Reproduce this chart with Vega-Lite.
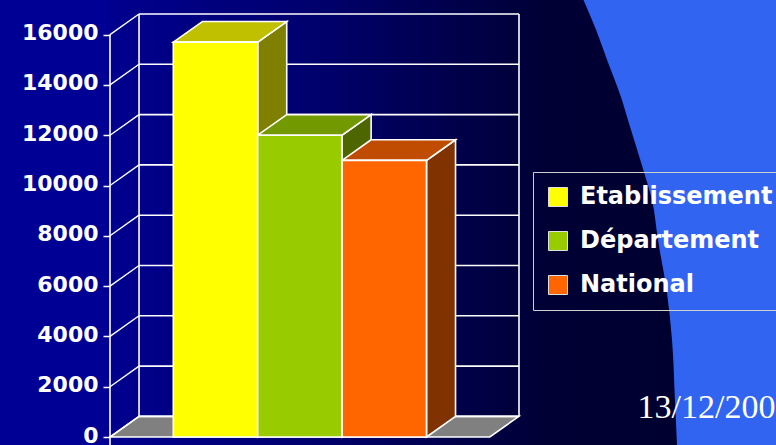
{
  "$schema": "https://vega.github.io/schema/vega-lite/v6.json",
  "width": 666,
  "height": 445,
  "autosize": {"type": "none"},
  "padding": {"left": 110, "top": 0, "right": 0, "bottom": 0},
  "background": "#000094",
  "view": {
    "stroke": null,
    "fill": {"gradient": "linear", "x1": 0, "y1": 0, "x2": 1, "y2": 0,
      "stops": [
        {"offset": 0, "color": "#00008f"},
        {"offset": 0.3, "color": "#00006e"},
        {"offset": 0.65, "color": "#000036"},
        {"offset": 1, "color": "#00002a"}
      ]}
  },
  "datasets": {
    "bars": [
      {"cat": "Etablissement", "i": 0, "v": 15700},
      {"cat": "Département", "i": 1, "v": 12000},
      {"cat": "National", "i": 2, "v": 11000}
    ],
    "grid": [
      {"g": 0}, {"g": 2000}, {"g": 4000}, {"g": 6000}, {"g": 8000},
      {"g": 10000}, {"g": 12000}, {"g": 14000}, {"g": 16000}
    ],
    "floor": [{"d": 0}, {"d": 1}],
    "shape": [
      {"bx": 5.610, "by": 17376},
      {"bx": 5.760, "by": 16183},
      {"bx": 5.890, "by": 14990},
      {"bx": 6.066, "by": 13400},
      {"bx": 6.137, "by": 12604},
      {"bx": 6.327, "by": 10537},
      {"bx": 6.422, "by": 9423},
      {"bx": 6.493, "by": 7833},
      {"bx": 6.600, "by": 5726},
      {"bx": 6.659, "by": 3857},
      {"bx": 6.694, "by": 1471},
      {"bx": 6.718, "by": -318}
    ]
  },
  "resolve": {"scale": {"color": "independent"}, "axis": {"y": "independent", "x": "independent"}},
  "layer": [
    {
      "data": {"name": "shape"},
      "transform": [{"calculate": "7.891", "as": "bx2"}],
      "mark": {"type": "area", "orient": "horizontal", "fill": "#3264f2", "interpolate": "monotone"},
      "encoding": {
        "y": {"field": "by", "type": "quantitative", "scale": {"domain": [-318, 17376], "nice": false, "zero": false}, "axis": null},
        "x": {"field": "bx", "type": "quantitative", "scale": {"domain": [0, 7.891], "nice": false, "zero": false}, "axis": null},
        "x2": {"field": "bx2"}
      }
    },
    {
      "data": {"name": "floor"},
      "transform": [
        {"calculate": "datum.d*0.344", "as": "fx"},
        {"calculate": "4.5+datum.d*0.344", "as": "fx2"},
        {"calculate": "datum.d*820", "as": "fy"}
      ],
      "mark": {"type": "area", "orient": "horizontal", "fill": "#808080", "stroke": "#ffffff", "strokeWidth": 1.6},
      "encoding": {
        "y": {"field": "fy", "type": "quantitative", "scale": {"domain": [-318, 17376], "nice": false, "zero": false}, "axis": null},
        "x": {"field": "fx", "type": "quantitative", "scale": {"domain": [0, 7.891], "nice": false, "zero": false}, "axis": null},
        "x2": {"field": "fx2"}
      }
    },
    {
      "data": {"name": "grid"},
      "transform": [{"calculate": "datum.g+820", "as": "gb"}],
      "mark": {"type": "rule", "color": "#ffffff", "strokeWidth": 1.6},
      "encoding": {
        "y": {"field": "gb", "type": "quantitative", "scale": {"domain": [-318, 17376], "nice": false, "zero": false}, "axis": null},
        "x": {"datum": 0.344, "type": "quantitative", "scale": {"domain": [0, 7.891], "nice": false, "zero": false}, "axis": null},
        "x2": {"datum": 4.846}
      }
    },
    {
      "data": {"name": "grid"},
      "transform": [{"calculate": "datum.g+820", "as": "gb"}],
      "mark": {"type": "rule", "color": "#ffffff", "strokeWidth": 1.4},
      "encoding": {
        "y": {"field": "g", "type": "quantitative", "scale": {"domain": [-318, 17376], "nice": false, "zero": false}, "axis": null},
        "y2": {"field": "gb"},
        "x": {"datum": 0, "type": "quantitative", "scale": {"domain": [0, 7.891], "nice": false, "zero": false}, "axis": null},
        "x2": {"datum": 0.344}
      }
    },
    {
      "data": {"values": [{}]},
      "mark": {"type": "rule", "color": "#ffffff", "strokeWidth": 1.6},
      "encoding": {
        "x": {"datum": 0.344, "type": "quantitative", "scale": {"domain": [0, 7.891], "nice": false, "zero": false}, "axis": null},
        "y": {"datum": 820, "type": "quantitative", "scale": {"domain": [-318, 17376], "nice": false, "zero": false}, "axis": null},
        "y2": {"datum": 16820}
      }
    },
    {
      "data": {"values": [{}]},
      "mark": {"type": "rule", "color": "#ffffff", "strokeWidth": 1.6},
      "encoding": {
        "x": {"datum": 4.846, "type": "quantitative", "scale": {"domain": [0, 7.891], "nice": false, "zero": false}, "axis": null},
        "y": {"datum": 820, "type": "quantitative", "scale": {"domain": [-318, 17376], "nice": false, "zero": false}, "axis": null},
        "y2": {"datum": 16820}
      }
    },
    {
      "data": {"name": "bars"},
      "transform": [
        {"calculate": "[0,1]", "as": "k"},
        {"flatten": ["k"]},
        {"calculate": "datum.i+1.75+datum.k*0.344", "as": "sx"},
        {"calculate": "datum.k*820", "as": "sy"},
        {"calculate": "datum.v+datum.k*820", "as": "sy2"}
      ],
      "mark": {"type": "area", "orient": "vertical", "stroke": "#ffffff", "strokeWidth": 1.6, "opacity": 1},
      "encoding": {
        "x": {"field": "sx", "type": "quantitative", "scale": {"domain": [0, 7.891], "nice": false, "zero": false}, "axis": null},
        "y": {"field": "sy", "type": "quantitative", "scale": {"domain": [-318, 17376], "nice": false, "zero": false}, "axis": null},
        "y2": {"field": "sy2"},
        "color": {"field": "cat", "type": "nominal", "legend": null,
          "scale": {"domain": ["Etablissement", "Département", "National"], "range": ["#808000", "#4d6600", "#803300"]}}
      }
    },
    {
      "data": {"name": "bars"},
      "transform": [
        {"calculate": "[0,1]", "as": "k"},
        {"flatten": ["k"]},
        {"calculate": "datum.i+0.75+datum.k*0.344", "as": "tx"},
        {"calculate": "datum.i+1.75+datum.k*0.344", "as": "tx2"},
        {"calculate": "datum.v+datum.k*820", "as": "ty"}
      ],
      "mark": {"type": "area", "orient": "horizontal", "stroke": "#ffffff", "strokeWidth": 1.6, "opacity": 1},
      "encoding": {
        "y": {"field": "ty", "type": "quantitative", "scale": {"domain": [-318, 17376], "nice": false, "zero": false}, "axis": null},
        "x": {"field": "tx", "type": "quantitative", "scale": {"domain": [0, 7.891], "nice": false, "zero": false}, "axis": null},
        "x2": {"field": "tx2"},
        "color": {"field": "cat", "type": "nominal", "legend": null,
          "scale": {"domain": ["Etablissement", "Département", "National"], "range": ["#c0c000", "#739900", "#bf4c00"]}}
      }
    },
    {
      "data": {"name": "bars"},
      "transform": [
        {"calculate": "datum.i+0.75", "as": "bx0"},
        {"calculate": "datum.i+1.75", "as": "bx1"}
      ],
      "mark": {"type": "bar", "stroke": "#ffffff", "strokeWidth": 1.6, "opacity": 1},
      "encoding": {
        "x": {"field": "bx0", "type": "quantitative", "scale": {"domain": [0, 7.891], "nice": false, "zero": false}, "axis": null},
        "x2": {"field": "bx1"},
        "y": {"field": "v", "type": "quantitative", "scale": {"domain": [-318, 17376], "nice": false, "zero": false},
          "axis": {
            "values": [0, 2000, 4000, 6000, 8000, 10000, 12000, 14000, 16000],
            "title": null, "grid": false, "domain": false,
            "labelFont": "DejaVu Sans", "labelFontWeight": "bold", "labelFontSize": 22,
            "labelColor": "#ffffff", "labelPadding": 5, "labelOffset": -2,
            "tickColor": "#ffffff", "tickSize": 7, "tickWidth": 1.5, "format": "d", "labelFlush": false, "labelOverlap": false
          }},
        "y2": {"datum": 0},
        "color": {"field": "cat", "type": "nominal",
          "scale": {"domain": ["Etablissement", "Département", "National"], "range": ["#ffff00", "#99cc00", "#ff6600"]},
          "legend": {
            "orient": "none", "legendX": 423, "legendY": 172, "title": null,
            "strokeColor": "#d0d0d0", "padding": 13,
            "symbolType": "square", "symbolSize": 360, "symbolStrokeColor": "#e0e0e0", "symbolStrokeWidth": 1, "symbolOpacity": 1,
            "labelFont": "DejaVu Sans", "labelFontWeight": "bold", "labelFontSize": 24, "labelColor": "#ffffff",
            "labelOffset": 10, "rowPadding": 20, "labelLimit": 400
          }}
      }
    },
    {
      "data": {"values": [{}]},
      "mark": {"type": "rule", "color": "#ffffff", "strokeWidth": 1.6},
      "encoding": {
        "x": {"datum": 0, "type": "quantitative", "scale": {"domain": [0, 7.891], "nice": false, "zero": false}, "axis": null},
        "y": {"datum": -318, "type": "quantitative", "scale": {"domain": [-318, 17376], "nice": false, "zero": false}, "axis": null},
        "y2": {"datum": 16000}
      }
    },
    {
      "data": {"values": [{"label": "13/12/200"}]},
      "mark": {"type": "text", "font": "Liberation Serif", "fontSize": 34, "color": "#ffffff", "align": "left", "baseline": "alphabetic"},
      "encoding": {
        "x": {"datum": 6.25, "type": "quantitative", "scale": {"domain": [0, 7.891], "nice": false, "zero": false}, "axis": null},
        "y": {"datum": 755, "type": "quantitative", "scale": {"domain": [-318, 17376], "nice": false, "zero": false}, "axis": null},
        "text": {"field": "label"}
      }
    }
  ]
}
